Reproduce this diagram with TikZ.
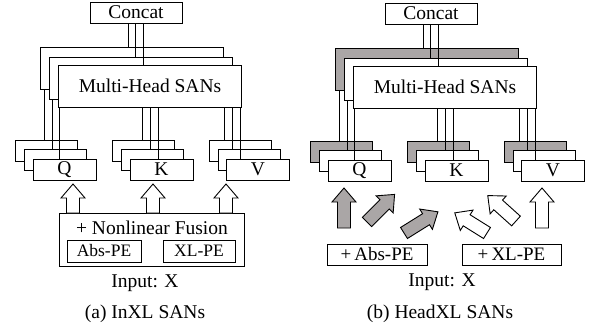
\documentclass[tikz,border=0pt]{standalone}
\usepackage{fontspec}
\setmainfont{Liberation Serif}
\definecolor{boxgray}{RGB}{170,166,166}
\tikzset{
  x=1pt, y=-1pt,
  ln/.style={line width=0.9pt},
  bx/.style={draw, fill=white, line width=0.9pt, inner sep=0pt, minimum width=62pt, minimum height=21pt, font=\fontsize{19.5}{20}\selectfont},
  txt/.style={inner sep=0pt, font=\fontsize{19.5}{20}\selectfont},
  pe/.style={draw, fill=white, line width=0.9pt, inner sep=0pt, minimum height=22pt, font=\fontsize{17.5}{18}\selectfont},
  harrow/.style={draw, line width=0.9pt, fill=white},
  garrow/.style={draw, line width=0.9pt, fill=boxgray},
  blockarrow/.pic={\path[pic actions] (0,-6.5) -- ({#1-14},-6.5) -- ({#1-14},-12) -- (#1,0) -- ({#1-14},12) -- ({#1-14},6.5) -- (0,6.5) -- cycle;}
}
\newcommand\vlink[3]{\draw[ln] (#2 -| #1,0) -- (#3 -| #1,0);}
% #1 prefix, #2 back fill
\newcommand\topblock[2]{%
  \node[bx, minimum width=92pt] (#1C) at (136,12.5) {Concat};
  \node[bx, minimum width=183pt, minimum height=42pt, fill=#2] (#1Mb) at (131.5,68) {};
  \node[bx, minimum width=183pt, minimum height=42pt] (#1Mm) at (140.5,78) {};
  \node[bx, minimum width=183pt, minimum height=42pt] (#1Mf) at (150,86) {Multi-Head SANs};
  \node[bx, fill=#2] (#1Qb) at (46,150.5) {};
  \node[bx] (#1Qm) at (55,159.5) {};
  \node[bx, minimum width=63pt] (#1Qf) at (64.5,169.5) {Q};
  \node[bx, fill=#2] (#1Kb) at (143,150.5) {};
  \node[bx] (#1Km) at (152,159.5) {};
  \node[bx, minimum width=63pt] (#1Kf) at (161.5,169.5) {K};
  \node[bx, fill=#2] (#1Vb) at (240,150.5) {};
  \node[bx] (#1Vm) at (249,159.5) {};
  \node[bx, minimum width=63pt] (#1Vf) at (258,169.5) {V};
  \vlink{128}{#1C.south}{#1Mb.north}
  \vlink{135}{#1C.south}{#1Mm.north}
  \vlink{143}{#1C.south}{#1Mf.north}
  \vlink{44}{#1Mb.south}{#1Qb.north}
  \vlink{52}{#1Mm.south}{#1Qm.north}
  \vlink{59.5}{#1Mf.south}{#1Qf.north}
  \vlink{142}{#1Mf.south}{#1Kb.north}
  \vlink{150}{#1Mf.south}{#1Km.north}
  \vlink{158}{#1Mf.south}{#1Kf.north}
  \vlink{224}{#1Mf.south}{#1Vb.north}
  \vlink{232}{#1Mf.south}{#1Vm.north}
  \vlink{240}{#1Mf.south}{#1Vf.north}
}
\begin{document}
\begin{tikzpicture}
\useasboundingbox (0,0) rectangle (589,334);
% ---------- (a) InXL SANs ----------
\topblock{L}{white}
\node[draw, line width=0.9pt, minimum width=185pt, minimum height=53pt, inner sep=0pt] (Lfus) at (151.5,239.5) {};
\node[txt] (Lfustxt) at (152,228) {+ Nonlinear Fusion};
\node[pe, minimum width=74pt] (Labs) at (104,251) {Abs-PE};
\node[pe, minimum width=72pt] (Lxl) at (199,251) {XL-PE};
\pic[harrow, rotate=90] at (73,213) {blockarrow=29};
\pic[harrow, rotate=90] at (153,213) {blockarrow=29};
\pic[harrow, rotate=90] at (226,213) {blockarrow=29};
\node[txt] (Linput) at (145,283) {Input: X};
\node[txt] (Lcap) at (145,314) {(a) InXL SANs};
% ---------- (b) HeadXL SANs ----------
\begin{scope}[xshift=295pt, yshift=-1pt]
\topblock{R}{boxgray}
\end{scope}
\node[pe, minimum width=100pt, minimum height=21pt, font=\fontsize{19}{20}\selectfont] (Rabs) at (377,254.5) {+\,Abs-PE};
\node[pe, minimum width=99pt, minimum height=21pt, font=\fontsize{19}{20}\selectfont] (Rxl) at (511.5,254.5) {+\,XL-PE};
\pic[garrow, rotate=90] at (344,228) {blockarrow=40};
\pic[garrow, rotate=45] at (367,222) {blockarrow=39};
\pic[garrow, rotate=32] at (404,233) {blockarrow=40};
\pic[harrow, rotate=148] at (487,233) {blockarrow=38};
\pic[harrow, rotate=138] at (516,221) {blockarrow=38};
\pic[harrow, rotate=90] at (542,228) {blockarrow=40};
\node[txt] (Rinput) at (442,282) {Input: X};
\node[txt] (Rcap) at (440,314) {(b) HeadXL SANs};
\end{tikzpicture}
\end{document}
